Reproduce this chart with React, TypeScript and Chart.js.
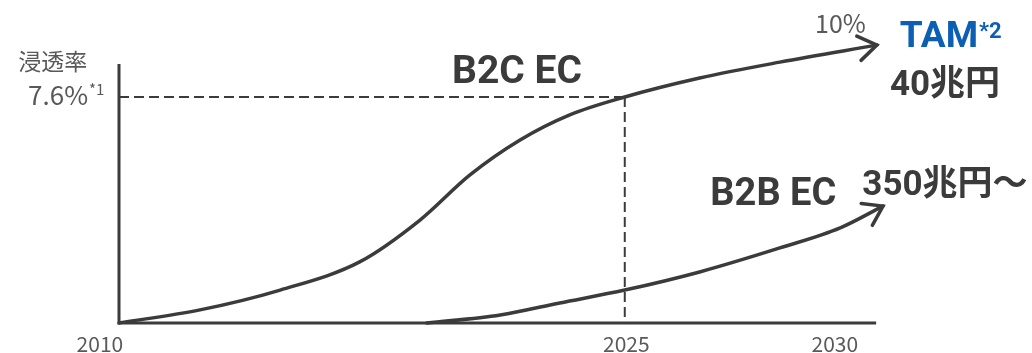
import React, { useEffect, useRef } from 'react';
import { Chart, registerables } from 'chart.js';

Chart.register(...registerables);

// Conceptual chart: x = time index (0 = 2010 origin, 100 = right end), y = penetration index
const B2C_X = [0, 10.6, 21.1, 31.5, 39.4, 45.9, 52.5, 59.0, 66.2, 76.0, 86.5, 99.2];
const B2C_Y = [0, 4.7, 11.8, 21.9, 36.9, 53.0, 65.6, 74.6, 81.0, 87.8, 93.5, 99.6];
const B2B_X = [40.3, 49.9, 57.7, 66.2, 76.0, 86.5, 94.4, 100];
const B2B_Y = [0, 2.9, 7.2, 11.8, 18.3, 26.9, 34.1, 41.9];
const YEAR_LABELS = ['2010', '2025', '2030'];
const YEAR_POS = [-2.5, 66.4, 93.7];
const GUIDE_INDEX = 8; // B2C point at 2025 (7.6%)
const AXIS_X_END = 99.1;
const AXIS_Y_END = 92.8;

const GRAY = '#595959';
const DARK = '#3b3b3b';
const BLUE = '#0d5fb3';
const JP = "'Noto Sans CJK JP', 'Noto Sans', sans-serif";
const BOLD = "Roboto, 'Noto Sans CJK JP', sans-serif";

const pts = (xs: number[], ys: number[]) => xs.map((v, i) => ({ x: v, y: ys[i] }));

const overlay = {
  id: 'overlay',
  beforeDatasetsDraw(chart: any) {
    const { ctx, scales } = chart;
    const x = scales.x, y = scales.y;
    ctx.save();
    ctx.strokeStyle = DARK;
    ctx.lineWidth = 3;
    ctx.lineCap = 'butt';
    ctx.beginPath();
    ctx.moveTo(x.getPixelForValue(0), y.getPixelForValue(0) + 1.5);
    ctx.lineTo(x.getPixelForValue(0), y.getPixelForValue(AXIS_Y_END));
    ctx.moveTo(x.getPixelForValue(0), y.getPixelForValue(0));
    ctx.lineTo(x.getPixelForValue(AXIS_X_END), y.getPixelForValue(0));
    ctx.stroke();
    ctx.restore();
  },
  afterDatasetsDraw(chart: any) {
    const { ctx, scales } = chart;
    const x = scales.x, y = scales.y;
    const P = (ux: number, uy: number) => [x.getPixelForValue(ux), y.getPixelForValue(uy)];
    ctx.save();
    // arrowheads
    [0, 1].forEach((di) => {
      const meta = chart.getDatasetMeta(di);
      const n = meta.data.length;
      const a = meta.data[n - 2], b = meta.data[n - 1];
      const ang = Math.atan2(b.y - a.y, b.x - a.x);
      const L = 22, spread = (34 * Math.PI) / 180;
      ctx.strokeStyle = DARK;
      ctx.lineWidth = 3.5;
      ctx.lineCap = 'round';
      ctx.lineJoin = 'miter';
      ctx.beginPath();
      ctx.moveTo(b.x - L * Math.cos(ang - spread), b.y - L * Math.sin(ang - spread));
      ctx.lineTo(b.x, b.y);
      ctx.lineTo(b.x - L * Math.cos(ang + spread), b.y - L * Math.sin(ang + spread));
      ctx.stroke();
    });

    const text = (s: string, ux: number, uy: number, font: string, color: string, align: CanvasTextAlign = 'left', base: CanvasTextBaseline = 'alphabetic') => {
      const [px, py] = P(ux, uy);
      ctx.font = font;
      ctx.fillStyle = color;
      ctx.textAlign = align;
      ctx.textBaseline = base;
      ctx.fillText(s, px, py);
      return px + ctx.measureText(s).width;
    };
    const sup = (s: string, px: number, uy: number, font: string, color: string) => {
      ctx.font = font;
      ctx.fillStyle = color;
      ctx.textAlign = 'left';
      ctx.textBaseline = 'alphabetic';
      ctx.fillText(s, px, y.getPixelForValue(uy));
    };

    // y-axis title and guide value
    text('浸透率', -13.2, 93.9, `23px ${JP}`, GRAY, 'left', 'middle');
    const e1 = text('7.6%', -11.9, 78.1, `26px ${JP}`, GRAY);
    sup('*1', e1 + 1, 81.7, `15px ${JP}`, GRAY);
    text('10%', 91.1, 103.9, `25px ${JP}`, GRAY);

    // market size labels
    const e2 = text('TAM', 102.2, 98.9, `bold 37px ${BOLD}`, BLUE);
    sup('*2', e2 + 1, 102.2, `bold 22px ${BOLD}`, BLUE);
    text('40兆円', 100.9, 81.7, `bold 35px ${BOLD}`, DARK);
    text('B2C EC', 43.6, 86.0, `bold 39px ${BOLD}`, DARK);
    text('B2B EC', 77.4, 42.3, `bold 38px ${BOLD}`, DARK);
    text('350兆円～', 97.3, 45.9, `bold 35px ${BOLD}`, DARK);

    // year ticks
    YEAR_LABELS.forEach((lab, i) => text(lab, YEAR_POS[i], -10.4, `21px ${JP}`, GRAY, 'center'));
    ctx.restore();
  },
};

export default function App() {
  const ref = useRef<HTMLCanvasElement | null>(null);
  useEffect(() => {
    document.body.style.margin = '0';
    const canvas = ref.current;
    if (!canvas) return;
    const g = { x: B2C_X[GUIDE_INDEX], y: B2C_Y[GUIDE_INDEX] };
    const chart = new Chart(canvas, {
      type: 'line',
      data: {
        datasets: [
          {
            label: 'B2C EC',
            data: pts(B2C_X, B2C_Y),
            borderColor: DARK,
            borderWidth: 3.5,
            cubicInterpolationMode: 'monotone',
            pointRadius: 0,
            borderCapStyle: 'round',
            clip: false,
          } as any,
          {
            label: 'B2B EC',
            data: pts(B2B_X, B2B_Y),
            borderColor: DARK,
            borderWidth: 3.5,
            cubicInterpolationMode: 'monotone',
            pointRadius: 0,
            borderCapStyle: 'round',
            clip: false,
          } as any,
          {
            label: 'guide-h',
            data: [{ x: 0, y: g.y }, { x: g.x, y: g.y }],
            borderColor: DARK,
            borderWidth: 2,
            borderDash: [10, 5],
            pointRadius: 0,
            clip: false,
          } as any,
          {
            label: 'guide-v',
            data: [{ x: g.x, y: g.y }, { x: g.x, y: 0 }],
            borderColor: DARK,
            borderWidth: 2,
            borderDash: [10, 5],
            pointRadius: 0,
            clip: false,
          } as any,
        ],
      },
      options: {
        responsive: false,
        animation: false,
        layout: { padding: { left: 119, right: 149, top: 44, bottom: 30 } },
        scales: {
          x: { type: 'linear', min: 0, max: 100, display: false },
          y: { type: 'linear', min: 0, max: 100, display: false },
        },
        plugins: { legend: { display: false }, tooltip: { enabled: false } },
      },
      plugins: [overlay],
    });
    return () => chart.destroy();
  }, []);
  return <canvas ref={ref} width={1032} height={353} style={{ display: 'block' }} />;
}
